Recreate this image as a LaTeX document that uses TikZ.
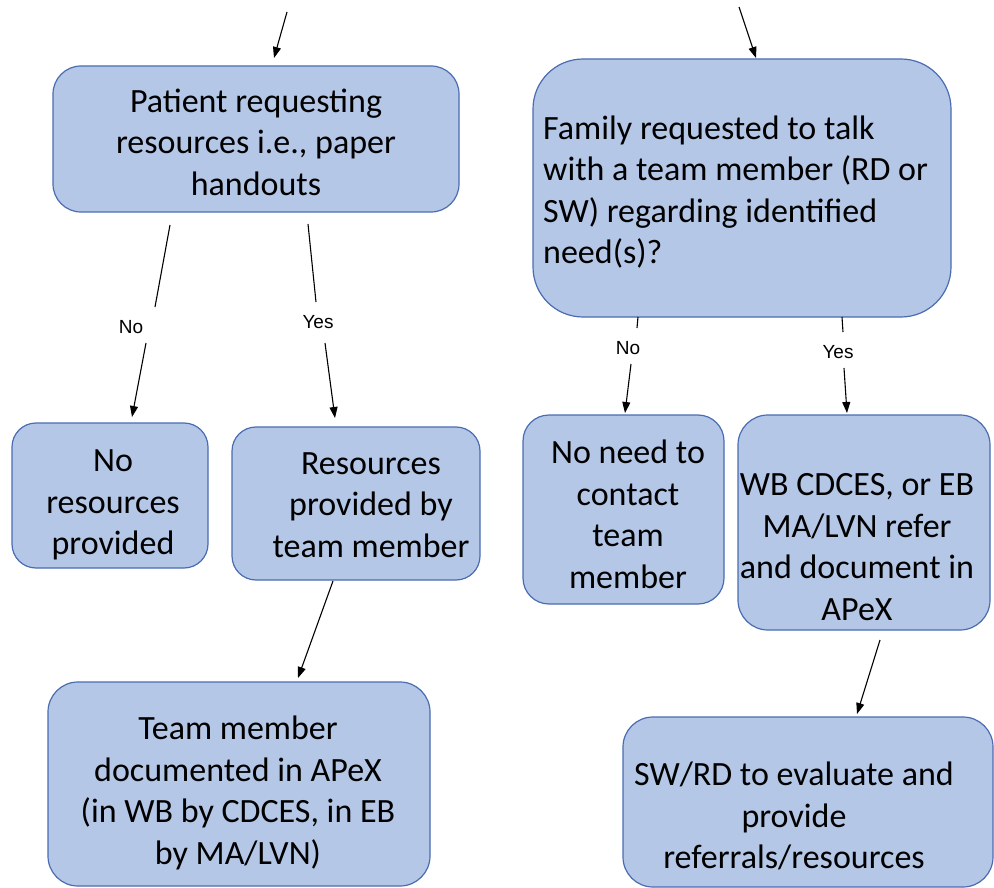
\documentclass[tikz,border=0pt]{standalone}
\usepackage{fontspec}
\setmainfont{Carlito}
\newfontfamily\lblfont{Liberation Sans}
\usetikzlibrary{arrows.meta}
\definecolor{boxfill}{HTML}{B4C7E7}
\definecolor{boxline}{HTML}{4A6CB0}
\begin{document}
\begin{tikzpicture}[x=1pt,y=-1pt,
  box/.style={draw=boxline, fill=boxfill, line width=1.2pt, rounded corners=#1, inner sep=0pt},
  box/.default=25pt,
  txt/.style={align=center, font=\fontsize{34}{41.5}\selectfont, inner sep=0pt, text=black},
  lbl/.style={font=\lblfont\fontsize{19}{22}\selectfont, inner sep=0pt},
  conn/.style={draw=black, line width=1.1pt, -{Triangle[length=11pt,width=8pt]}},
  seg/.style={draw=black, line width=1.1pt}]
\useasboundingbox (0,0) rectangle (994,888);

% boxes
\node[box=28pt, minimum width=406pt, minimum height=146pt] (p) at (256,139) {};
\node[box=50pt, minimum width=418pt, minimum height=258pt] (f) at (742,188) {};
\node[box=24pt, minimum width=196pt, minimum height=145pt] (nr) at (110,495.5) {};
\node[box=24pt, minimum width=248pt, minimum height=153pt] (rp) at (356,503.5) {};
\node[box=30pt, minimum width=382pt, minimum height=204pt] (tm) at (239,784) {};
\node[box=26pt, minimum width=201pt, minimum height=189pt] (nn) at (623.5,509.5) {};
\node[box=30pt, minimum width=252pt, minimum height=215pt] (wb) at (864,522.5) {};
\node[box=30pt, minimum width=370pt, minimum height=170pt] (sw) at (808,802) {};

% texts
\node[txt] (pt) at (256,142) {Patient requesting\\resources i.e., paper\\handouts};
\node[txt, align=left, anchor=west] (ft) at (543,192) {Family requested to talk\\with a team member (RD or\\SW) regarding identified\\need(s)?};
\node[txt] (nrt) at (113,505) {No\\resources\\provided};
\node[txt] (rpt) at (371,505) {Resources\\provided by\\team member};
\node[txt] (tmt) at (238,793) {Team member\\documented in APeX\\(in WB by CDCES, in EB\\by MA/LVN)};
\node[txt] (nnt) at (628,514.5) {No need to\\contact\\team\\member};
\node[txt] (wbt) at (857,547) {WB CDCES, or EB\\MA/LVN refer\\and document in\\APeX};
\node[txt] (swt) at (794,816) {SW/RD to evaluate and\\provide\\referrals/resources};

% labels
\node[lbl] (l1) at (131,327) {No};
\node[lbl] (l2) at (318,322) {Yes};
\node[lbl] (l3) at (628,348) {No};
\node[lbl] (l4) at (838,352) {Yes};

% connector end points
\coordinate (a0) at (287,12);   \coordinate (a1) at (274,58);
\coordinate (b0) at (739,7);    \coordinate (b1) at (756,58);
\coordinate (c0) at (170,225);  \coordinate (c1) at (155,307);
\coordinate (c2) at (146,343);  \coordinate (c3) at (132,417);
\coordinate (d0) at (308,224);  \coordinate (d1) at (316,302);
\coordinate (d2) at (325,343);  \coordinate (d3) at (335,418);
\coordinate (e0) at (333,581);  \coordinate (e1) at (298,678);
\coordinate (g0) at (638,317);  \coordinate (g1) at (637,328);
\coordinate (g2) at (631,364);  \coordinate (g3) at (625,413);
\coordinate (h0) at (842,317);  \coordinate (h1) at (843,332);
\coordinate (h2) at (844,368);  \coordinate (h3) at (847,413);
\coordinate (k0) at (880,640);  \coordinate (k1) at (857,714);

% connectors
\draw[conn] (a0) -- (a1);
\draw[conn] (b0) -- (b1);
\draw[seg] (c0) -- (c1);
\draw[conn] (c2) -- (c3);
\draw[seg] (d0) -- (d1);
\draw[conn] (d2) -- (d3);
\draw[conn] (e0) -- (e1);
\draw[seg] (g0) -- (g1);
\draw[conn] (g2) -- (g3);
\draw[seg] (h0) -- (h1);
\draw[conn] (h2) -- (h3);
\draw[conn] (k0) -- (k1);
\end{tikzpicture}
\end{document}
